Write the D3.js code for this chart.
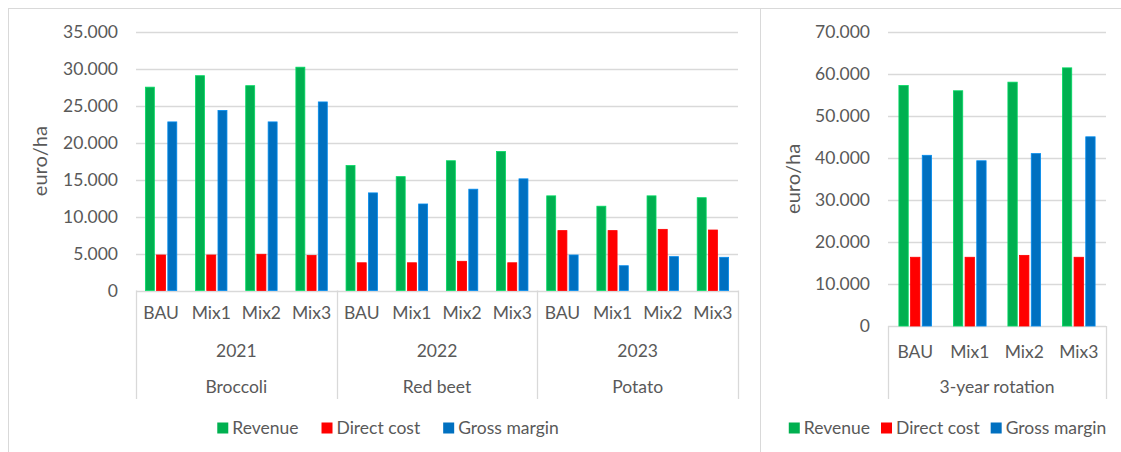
<!DOCTYPE html>
<html>
<head>
<meta charset="utf-8">
<script src="https://cdn.jsdelivr.net/npm/d3@7"></script>
<style>
  body { margin: 0; background: #fff; }
  text { font-family: Lato, "Open Sans", sans-serif; fill: #595959; }
</style>
</head>
<body>
<div id="chart"></div>
<script>
// Categories
const scenarios = ["BAU", "Mix1", "Mix2", "Mix3"];
const years = ["2021", "2022", "2023"];
const crops = ["Broccoli", "Red beet", "Potato"];
const seriesNames = ["Revenue", "Direct cost", "Gross margin"];
const seriesColors = ["#00b050", "#ff0000", "#0070c0"];

// Per-crop values (euro/ha), order: crop x scenario
const revenue     = [27500, 29050, 27700, 30200, 16900, 15400, 17550, 18800, 12800, 11400, 12800, 12550];
const directCost  = [4800, 4800, 4900, 4750, 3750, 3750, 3950, 3750, 8100, 8100, 8270, 8180];
const grossMargin = [22800, 24350, 22800, 25500, 13200, 11700, 13700, 15100, 4800, 3350, 4580, 4490];

// 3-year rotation values (euro/ha)
const rotationRevenue     = [57200, 55950, 58000, 61400];
const rotationDirectCost  = [16350, 16350, 16800, 16350];
const rotationGrossMargin = [40600, 39300, 41000, 45000];

// Tick values
const leftTicks = [0, 5000, 10000, 15000, 20000, 25000, 30000, 35000];
const rightTicks = [0, 10000, 20000, 30000, 40000, 50000, 60000, 70000];

const W = 1121, H = 452;
const svg = d3.select("#chart").append("svg")
    .attr("width", W)
    .attr("height", H);

const locale = d3.formatLocale({ decimal: ",", thousands: ".", grouping: [3], currency: ["", "€"] });
const fmt = locale.format(",");

// Chart frames
svg.append("rect")
    .attr("x", 8.5).attr("y", 8.5).attr("width", 752).attr("height", 460)
    .attr("fill", "none").attr("stroke", "#d9d9d9");
svg.append("rect")
    .attr("x", 760.5).attr("y", 8.5).attr("width", 380).attr("height", 460)
    .attr("fill", "none").attr("stroke", "#d9d9d9");

function drawPanel(cfg) {
  const g = svg.append("g");

  const keys = d3.range(cfg.series[0].length);
  const x = d3.scaleBand().domain(keys).range([cfg.x0, cfg.x1]);
  const y = d3.scaleLinear().domain([0, d3.max(cfg.ticks)]).range([cfg.y0, cfg.yTop]);
  const xs = d3.scaleBand().domain(d3.range(cfg.series.length))
      .range([x.bandwidth() * cfg.inset, x.bandwidth() * (1 - cfg.inset)])
      .paddingInner(0.2);

  // Gridlines
  g.selectAll(".grid")
    .data(cfg.ticks)
    .enter().append("line")
      .attr("x1", cfg.x0).attr("x2", cfg.x1)
      .attr("y1", d => Math.round(y(d)) + 0.5)
      .attr("y2", d => Math.round(y(d)) + 0.5)
      .attr("stroke", "#d9d9d9")
      .attr("stroke-width", 1.3);

  // Tick labels
  g.selectAll(".tick-label")
    .data(cfg.ticks)
    .enter().append("text")
      .attr("x", cfg.x0 - 18)
      .attr("y", d => y(d))
      .attr("dy", "0.36em")
      .attr("text-anchor", "end")
      .style("font-size", "17.5px")
      .text(d => fmt(d));

  // Y label
  g.append("text")
      .attr("transform", `translate(${cfg.labelX},${(cfg.y0 + cfg.yTop) / 2}) rotate(-90)`)
      .attr("text-anchor", "middle")
      .attr("dy", "0.35em")
      .style("font-size", "20px")
      .text("euro/ha");

  // Bars
  cfg.series.forEach((vals, si) => {
    g.selectAll(".bar-" + si)
      .data(vals)
      .enter().append("rect")
        .attr("x", (d, i) => x(i) + xs(si))
        .attr("width", xs.bandwidth())
        .attr("y", d => y(d))
        .attr("height", d => y(0) - y(d))
        .attr("fill", seriesColors[si])
        .attr("stroke", d3.color(seriesColors[si]).brighter(0.6))
        .attr("stroke-width", 0.8);
  });

  // Scenario labels
  g.selectAll(".scen")
    .data(keys)
    .enter().append("text")
      .attr("x", i => x(i) + x.bandwidth() / 2)
      .attr("y", cfg.rowY[0])
      .attr("dy", "0.35em")
      .attr("text-anchor", "middle")
      .style("font-size", "17.5px")
      .text(i => scenarios[i % scenarios.length]);

  // Group labels (years / crops)
  const nGroups = keys.length / scenarios.length;
  const groupW = (cfg.x1 - cfg.x0) / nGroups;
  cfg.groupRows.forEach((labels, r) => {
    g.selectAll(".grp-" + r)
      .data(labels)
      .enter().append("text")
        .attr("x", (d, i) => cfg.x0 + groupW * (i + 0.5))
        .attr("y", cfg.rowY[r + 1])
        .attr("dy", "0.35em")
        .attr("text-anchor", "middle")
        .style("font-size", "17.5px")
        .text(d => d);
  });

  // Group separators
  g.selectAll(".sep")
    .data(d3.range(nGroups + 1))
    .enter().append("line")
      .attr("x1", i => Math.round(cfg.x0 + groupW * i) + 0.5)
      .attr("x2", i => Math.round(cfg.x0 + groupW * i) + 0.5)
      .attr("y1", cfg.y0)
      .attr("y2", 399)
      .attr("stroke", "#d9d9d9")
      .attr("stroke-width", 1.3);

  // Legend
  const legend = g.append("g");
  let lx = 0;
  seriesNames.forEach((name, si) => {
    const item = legend.append("g").attr("transform", `translate(${lx},0)`);
    item.append("rect")
        .attr("x", 0).attr("y", 422.5)
        .attr("width", 11).attr("height", 11)
        .attr("fill", seriesColors[si]);
    const t = item.append("text")
        .attr("x", 15).attr("y", 428)
        .attr("dy", "0.36em")
        .style("font-size", "17.5px")
        .text(name);
    lx += 15 + t.node().getComputedTextLength() + cfg.legendGap;
  });
  const legendW = lx - cfg.legendGap;
  legend.attr("transform", `translate(${cfg.legendCenter - legendW / 2},0)`);
}

drawPanel({
  series: [revenue, directCost, grossMargin],
  ticks: leftTicks,
  x0: 136, x1: 738, y0: 290.5, yTop: 31.7,
  inset: 0.187,
  labelX: 40,
  rowY: [313, 351, 387],
  groupRows: [years, crops],
  legendCenter: 388, legendGap: 23
});

drawPanel({
  series: [rotationRevenue, rotationDirectCost, rotationGrossMargin],
  ticks: rightTicks,
  x0: 888, x1: 1106, y0: 326, yTop: 31.7,
  inset: 0.2,
  labelX: 793,
  rowY: [351.7, 387],
  groupRows: [["3-year rotation"]],
  legendCenter: 947.5, legendGap: 11
});
</script>
</body>
</html>
